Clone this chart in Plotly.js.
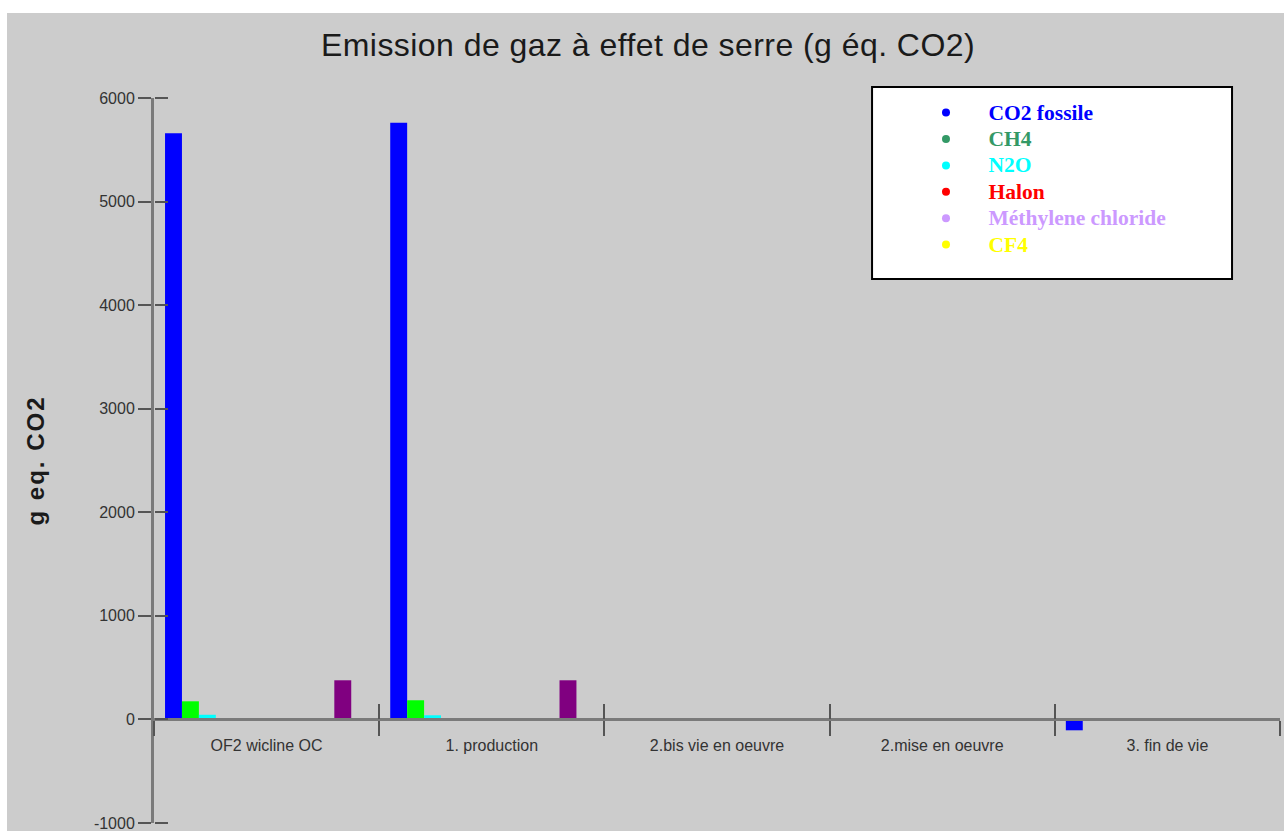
<!DOCTYPE html>
<html>
<head>
<meta charset="utf-8">
<script src="https://cdn.plot.ly/plotly-3.0.1.min.js"></script>
<style>
  html, body { margin: 0; padding: 0; background: #ffffff; }
  #chart { position: absolute; left: 7px; top: 13px; width: 1277px; height: 818px; }
</style>
</head>
<body>
<div id="chart"></div>
<script>
// ---- Data ----
const categories = ['OF2 wicline OC', '1. production', '2.bis vie en oeuvre', '2.mise en oeuvre', '3. fin de vie'];

const seriesNames = ['CO2 fossile', 'CH4', 'N2O', 'Halon', 'Méthylene chloride', 'CF4',
                     'Gaz 7', 'Gaz 8', 'Gaz 9', 'Gaz 10', 'Gaz 11', 'Gaz 12'];

const co2Fossile  = [5660, 5760, 0, 0, -105];
const ch4         = [175, 185, 0, 0, 0];
const n2o         = [45, 40, 0, 0, 0];
const halon       = [0, 0, 0, 0, 0];
const methylene   = [0, 0, 0, 0, 0];
const cf4         = [0, 0, 0, 0, 0];
const gaz7        = [0, 0, 0, 0, 0];
const gaz8        = [0, 0, 0, 0, 0];
const gaz9        = [0, 0, 0, 0, 0];
const gaz10       = [0, 0, 0, 0, 0];
const gaz11       = [378, 378, 0, 0, 0];
const gaz12       = [0, 0, 0, 0, 0];

const seriesValues = [co2Fossile, ch4, n2o, halon, methylene, cf4, gaz7, gaz8, gaz9, gaz10, gaz11, gaz12];

const barColors = ['#0000ff', '#00ff00', '#00ffff', '#ff0000', '#cc99ff', '#ffff00',
                   '#ff8000', '#008080', '#808000', '#ff00ff', '#800080', '#808080'];
const legendColors = ['#0000ff', '#339966', '#00ffff', '#ff0000', '#cc99ff', '#ffff00'];
const legendCount = 6;

const yTickVals = [-1000, 0, 1000, 2000, 3000, 4000, 5000, 6000];
const yTickText = ['-1000', '0', '1000', '2000', '3000', '4000', '5000', '6000'];
const yMin = -1000, yMax = 6000;

// ---- Traces ----
const traces = [];
seriesValues.forEach((vals, i) => {
  traces.push({
    type: 'bar',
    x: categories,
    y: vals,
    name: seriesNames[i],
    marker: { color: barColors[i], line: { width: 0 } },
    showlegend: false,
    hoverinfo: 'x+y+name'
  });
});
// legend entries (dot + coloured bold text); only the first six fit in the box
const pad = '\u00A0\u00A0\u00A0\u00A0\u00A0';
for (let i = 0; i < legendCount; i++) {
  traces.push({
    type: 'scatter',
    mode: 'markers',
    x: [null], y: [null],
    xaxis: 'x2', yaxis: 'y2',
    name: pad + '<b><span style="color:' + legendColors[i] + ';font-size:21.5px">' + seriesNames[i] + '</span></b>',
    marker: { color: legendColors[i], size: 8 },
    showlegend: true,
    hoverinfo: 'skip'
  });
}

const zeroPos = (0 - yMin) / (yMax - yMin);
const boundaries = [];
for (let k = 0; k <= categories.length; k++) boundaries.push(k - 0.5);

const layout = {
  width: 1277,
  height: 818,
  margin: { l: 147, r: 4, t: 85, b: 8, pad: 0 },
  paper_bgcolor: '#cccccc',
  plot_bgcolor: '#cccccc',
  font: { family: 'Liberation Sans, Arial, sans-serif', color: '#333333', size: 16 },
  title: {
    text: '<span style="letter-spacing:0.45px">Emission de gaz à effet de serre (g éq. CO2)</span>',
    font: { family: 'Liberation Sans, Arial, sans-serif', size: 32, color: '#1a1a1a' },
    xref: 'container', yref: 'container',
    x: 0.502, xanchor: 'center',
    y: 0.961, yanchor: 'middle'
  },
  barmode: 'group',
  bargap: 0.098,
  bargroupgap: 0,
  showlegend: true,
  legend: {
    x: 0.6856, y: 1.005, xanchor: 'left', yanchor: 'top',
    bgcolor: 'rgba(0,0,0,0)', borderwidth: 0,
    font: { family: 'Liberation Serif, Times New Roman, serif', size: 18, color: '#000' },
    itemclick: false, itemdoubleclick: false
  },
  xaxis: {
    type: 'category',
    categoryorder: 'array',
    categoryarray: categories,
    range: [-0.5, categories.length - 0.5],
    anchor: 'free',
    position: zeroPos,
    showline: true, linecolor: '#7a7a7a', linewidth: 3,
    ticks: 'outside', ticklen: 15, tickwidth: 2, tickcolor: '#555555',
    tickson: 'boundaries',
    ticklabelstandoff: 10,
    tickfont: { size: 16, color: '#333333' },
    showgrid: false, zeroline: false, fixedrange: true
  },
  xaxis2: {
    overlaying: 'x',
    anchor: 'free',
    position: zeroPos,
    range: [-0.5, categories.length - 0.5],
    tickmode: 'array', tickvals: boundaries,
    ticks: 'inside', ticklen: 15, tickwidth: 2, tickcolor: '#555555',
    showticklabels: false, showline: false, showgrid: false, zeroline: false, fixedrange: true
  },
  yaxis: {
    range: [yMin, yMax],
    tickmode: 'array', tickvals: yTickVals, ticktext: yTickText,
    ticklabeloverflow: 'allow',
    showline: true, linecolor: '#7a7a7a', linewidth: 3,
    ticks: 'outside', ticklen: 13, tickwidth: 2, tickcolor: '#555555',
    tickfont: { size: 16, color: '#333333' },
    showgrid: false, zeroline: false, fixedrange: true,
    title: {
      text: '<b><span style="letter-spacing:2px">g eq. CO2</span></b>',
      font: { size: 24, color: '#1a1a1a' },
      standoff: 43
    }
  },
  yaxis2: {
    overlaying: 'y',
    anchor: 'free', position: 0, side: 'right',
    range: [yMin, yMax],
    tickmode: 'array', tickvals: yTickVals,
    ticks: 'outside', ticklen: 13, tickwidth: 2, tickcolor: '#555555',
    showticklabels: false, showline: false, showgrid: false, zeroline: false, fixedrange: true
  },
  shapes: [{
    type: 'rect', xref: 'paper', yref: 'paper',
    x0: 0.6377, x1: 0.9574, y0: 0.7503, y1: 1.0152,
    fillcolor: '#ffffff', line: { color: '#000000', width: 2 },
    layer: 'above'
  }]
};

Plotly.newPlot('chart', traces, layout, { displayModeBar: false, staticPlot: true });
</script>
</body>
</html>
